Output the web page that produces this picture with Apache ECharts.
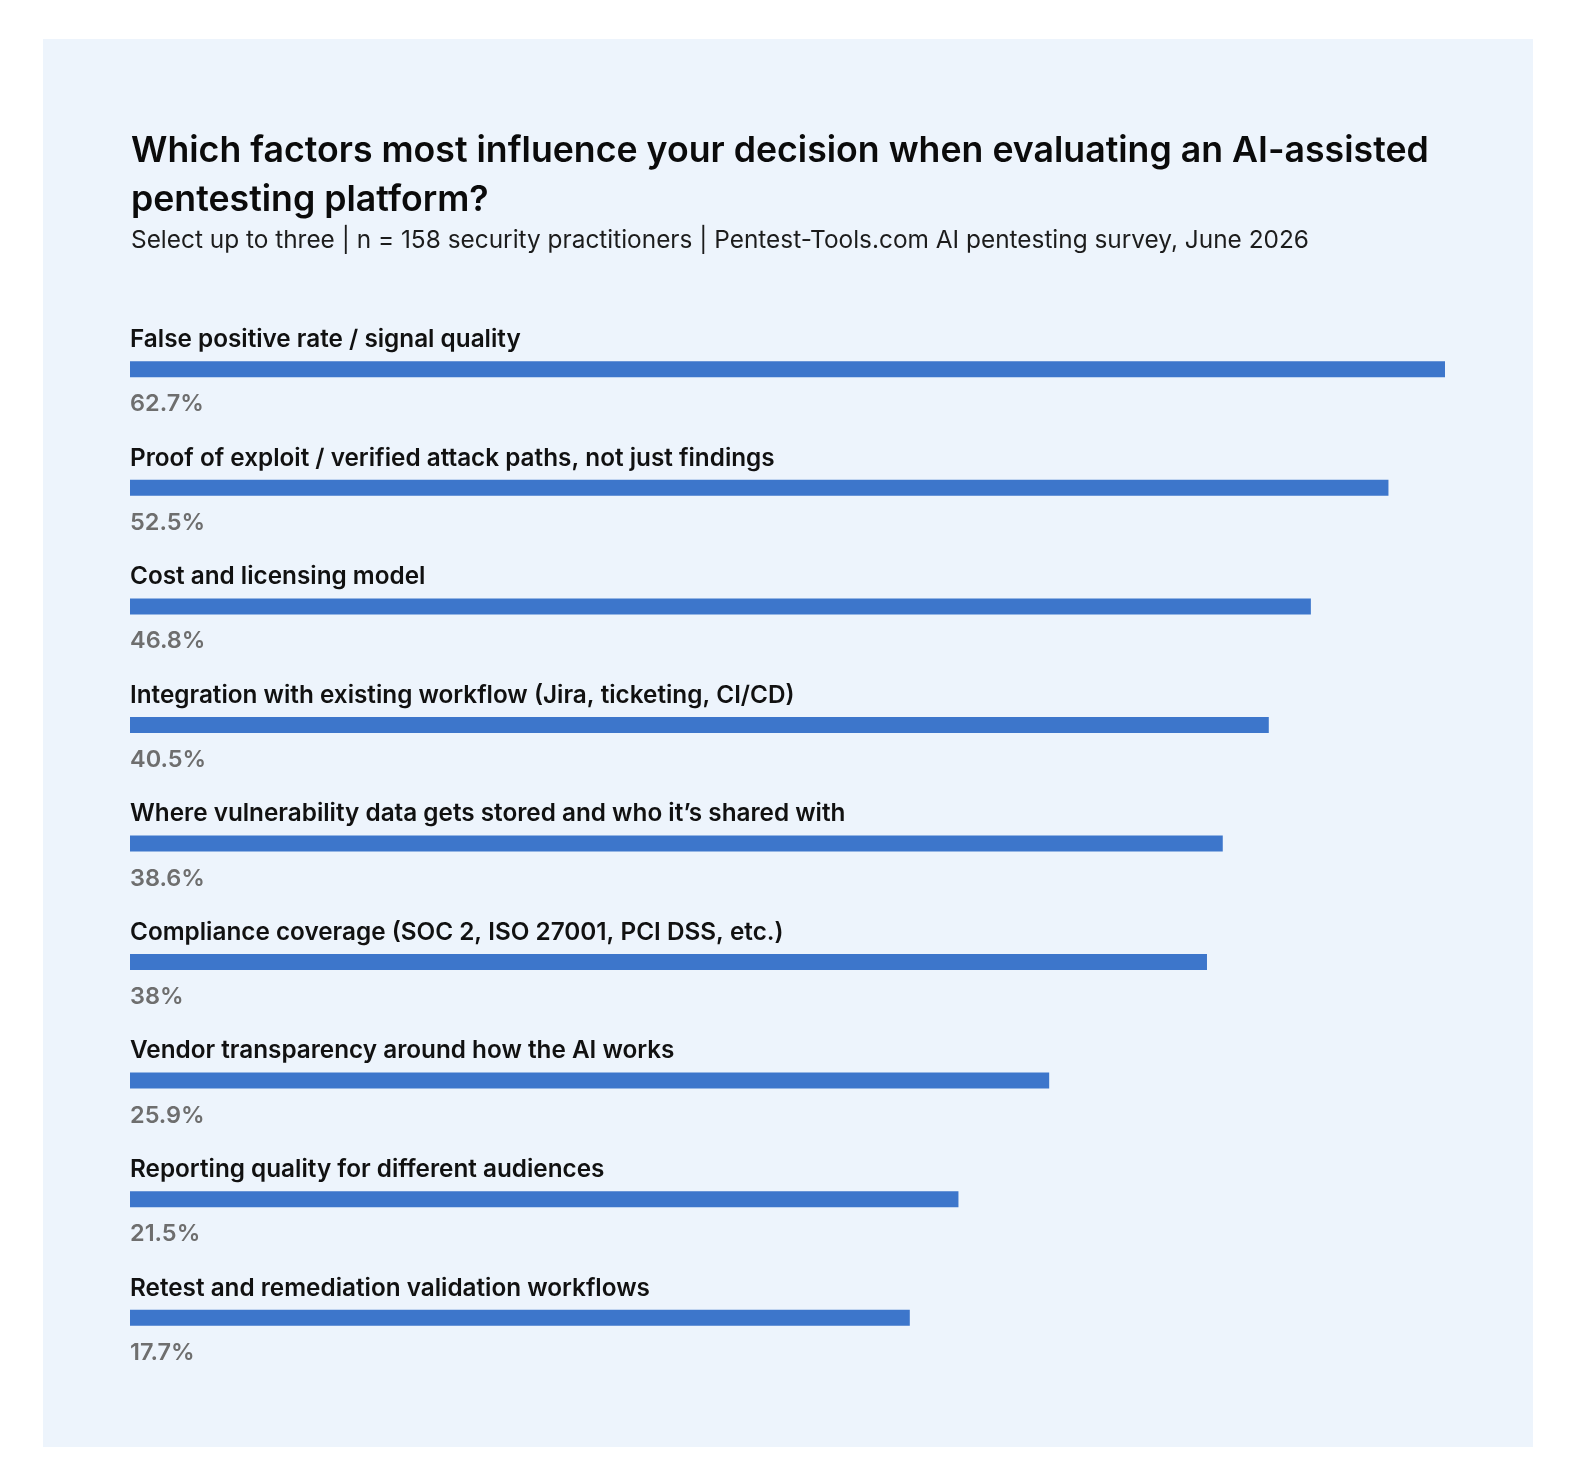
<!DOCTYPE html>
<html>
<head>
<meta charset="utf-8">
<style>
  html, body { margin: 0; padding: 0; background: #ffffff; }
  #main { width: 1578px; height: 1482px; }
</style>
<script src="https://cdn.jsdelivr.net/npm/echarts@6/dist/echarts.min.js"></script>
</head>
<body>
<div id="main"></div>
<script>
// categories, top to bottom
var categories = [
  'False positive rate / signal quality',
  'Proof of exploit / verified attack paths, not just findings',
  'Cost and licensing model',
  'Integration with existing workflow (Jira, ticketing, CI/CD)',
  'Where vulnerability data gets stored and who it\u2019s shared with',
  'Compliance coverage (SOC 2, ISO 27001, PCI DSS, etc.)',
  'Vendor transparency around how the AI works',
  'Reporting quality for different audiences',
  'Retest and remediation validation workflows'
];

// share of respondents, as printed under each bar
var shareLabels = ['62.7%', '52.5%', '46.8%', '40.5%', '38.6%', '38%', '25.9%', '21.5%', '17.7%'];

// bar lengths as drawn in the source (longest bar = 100)
var barLength = [100, 95.7, 89.8, 86.6, 83.1, 81.9, 69.9, 63.0, 59.3];

var myChart = echarts.init(document.getElementById('main'));

var option = {
  backgroundColor: '#ffffff',
  textStyle: { fontFamily: 'Inter' },
  graphic: [{
    type: 'rect',
    z: -10,
    shape: { x: 43, y: 39, width: 1490, height: 1408 },
    style: { fill: '#EDF4FC' }
  }],
  title: {
    text: 'Which factors most influence your decision when evaluating an AI-assisted\npentesting platform?',
    subtext: 'Select up to three | n = 158 security practitioners | Pentest-Tools.com AI pentesting survey, June 2026',
    left: 126,
    top: 122,
    itemGap: 1,
    textStyle: {
      fontFamily: 'Inter',
      fontSize: 35.7,
      fontWeight: 600,
      lineHeight: 49,
      color: '#0b0b0b'
    },
    subtextStyle: {
      fontFamily: 'Inter',
      fontSize: 24.4,
      color: '#1c1c1c',
      lineHeight: 30
    }
  },
  grid: {
    left: 130,
    right: 133,
    top: 310,
    bottom: 105,
    containLabel: false
  },
  xAxis: {
    type: 'value',
    min: 0,
    max: 100,
    show: false
  },
  yAxis: {
    type: 'category',
    inverse: true,
    data: categories,
    z: 5,
    axisLine: { show: false },
    axisTick: { show: false },
    splitLine: { show: false },
    axisLabel: {
      inside: true,
      margin: 0,
      align: 'left',
      verticalAlign: 'bottom',
      lineHeight: 59,
      fontFamily: 'Inter',
      fontSize: 24.3,
      fontWeight: 600,
      color: '#111111'
    }
  },
  series: [{
    type: 'bar',
    data: barLength,
    barWidth: 16,
    itemStyle: { color: '#3D76CB' },
    label: {
      show: true,
      position: [0, 31],
      formatter: function (p) { return shareLabels[p.dataIndex]; },
      fontFamily: 'Inter',
      fontSize: 23.5,
      fontWeight: 600,
      color: '#6E6E6E'
    },
    silent: true
  }],
  animation: false
};

myChart.setOption(option);
</script>
</body>
</html>
